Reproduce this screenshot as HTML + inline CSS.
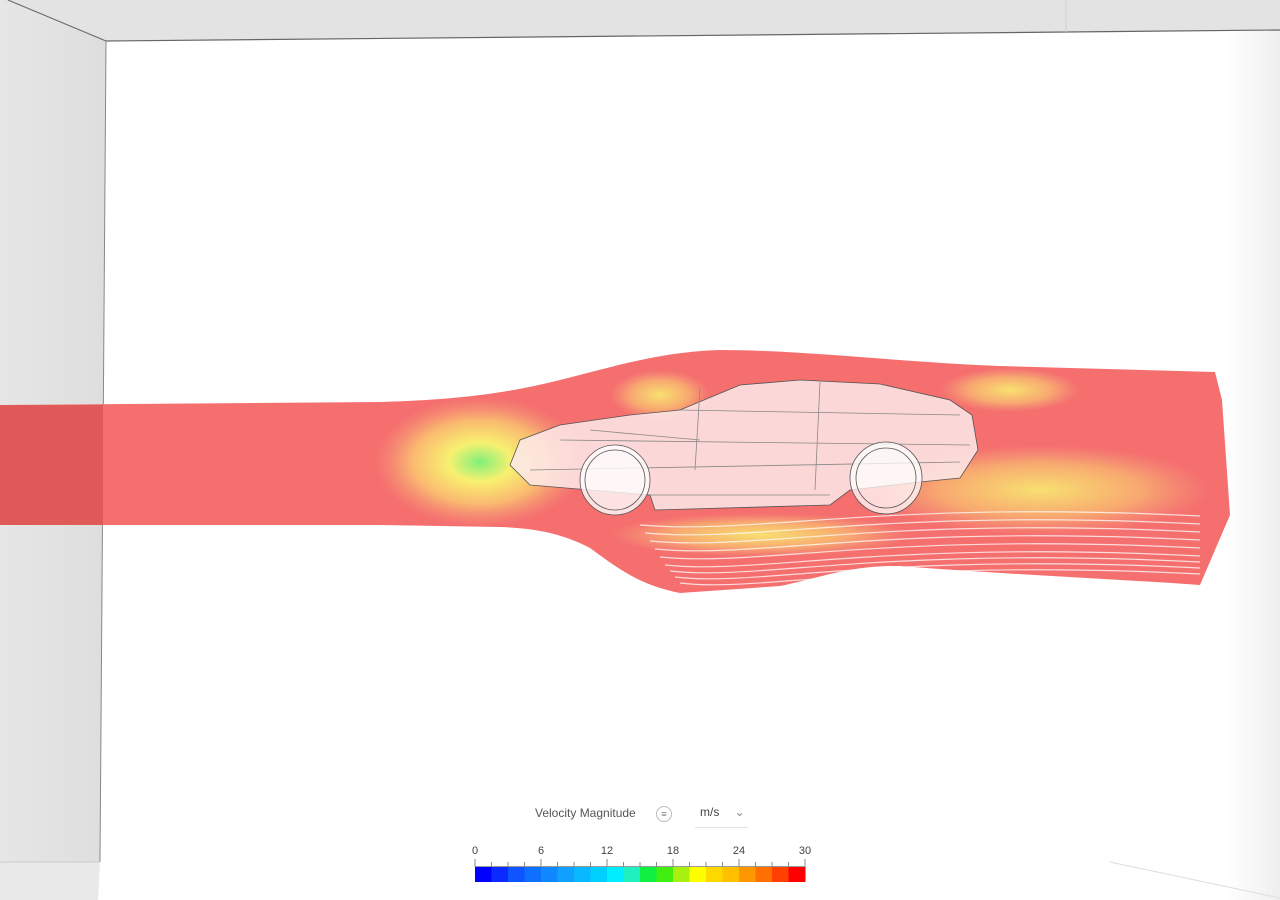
<!DOCTYPE html>
<html><head><meta charset="utf-8">
<style>
html,body{margin:0;padding:0;width:1280px;height:900px;overflow:hidden;background:#fff;font-family:"Liberation Sans",sans-serif;}
#scene{position:absolute;left:0;top:0;}
#legend{position:absolute;left:0;top:0;width:1280px;height:900px;pointer-events:none;}
.lbl{position:absolute;font-size:12px;color:#444;}
</style></head>
<body>
<svg id="scene" width="1280" height="900" viewBox="0 0 1280 900">
 <defs>
  <linearGradient id="rw" x1="0" x2="1"><stop offset="0" stop-color="#fff"/><stop offset="1" stop-color="#efefef"/></linearGradient>
  <linearGradient id="lw" x1="0" x2="1"><stop offset="0" stop-color="#e6e6e6"/><stop offset="1" stop-color="#dedede"/></linearGradient>
  <radialGradient id="stag1" cx="0.5" cy="0.5" r="0.5"><stop offset="0" stop-color="#7ff07a"/><stop offset="0.3" stop-color="#f8f070"/><stop offset="0.65" stop-color="#fab870"/><stop offset="1" stop-color="#f39a78" stop-opacity="0"/></radialGradient>
  <radialGradient id="stag2" cx="0.5" cy="0.5" r="0.5"><stop offset="0" stop-color="#f8e070"/><stop offset="0.6" stop-color="#f8a870"/><stop offset="1" stop-color="#f39a78" stop-opacity="0"/></radialGradient>
 </defs>
 <g>
  <rect x="0" y="0" width="1280" height="900" fill="#fff"/>
  <polygon points="0,0 1280,0 1280,30 106,41" fill="#e3e3e3"/>
  <polygon points="0,0 106,41 100,862 0,862" fill="url(#lw)"/>
  <rect x="1225" y="30" width="55" height="870" fill="url(#rw)"/>
  <polygon points="0,862 100,862 98,900 0,900" fill="#e9e9e9"/>
  <line x1="106" y1="41" x2="1280" y2="30" stroke="#666" stroke-width="1.2"/>
  <line x1="8" y1="0" x2="106" y2="41" stroke="#666" stroke-width="1"/>
  <line x1="106" y1="41" x2="100" y2="862" stroke="#888" stroke-width="1"/>
  <line x1="1066" y1="0" x2="1066" y2="32" stroke="#d0d0d0"/>
  <line x1="0" y1="862" x2="100" y2="862" stroke="#ccc"/>
  <line x1="1110" y1="862" x2="1280" y2="898" stroke="#ddd"/>
 </g>
 <g>
  <path d="M0,405 L380,402 C450,400 500,395 560,380 C620,365 660,352 720,350 C800,350 900,362 1000,366 L1215,372 L1222,400 L1230,515 L1200,585 C1100,578 1000,574 900,566 C850,565 820,578 780,586 L680,593 C640,585 620,570 590,548 C560,532 530,528 500,527 L380,525 L0,525 Z" fill="#f56f6f"/>
  <rect x="0" y="405" width="103" height="120" fill="#e05a5a"/>
  <ellipse cx="480" cy="462" rx="105" ry="65" fill="url(#stag1)"/>
  <ellipse cx="660" cy="395" rx="50" ry="25" fill="url(#stag2)"/>
  <ellipse cx="1010" cy="390" rx="70" ry="22" fill="url(#stag2)"/>
  <ellipse cx="1040" cy="490" rx="170" ry="45" fill="url(#stag2)"/>
  <ellipse cx="760" cy="535" rx="150" ry="22" fill="url(#stag2)"/>
  <g id="wake" stroke="#fff" stroke-width="1.2" fill="none" opacity="0.75"></g>
 </g>
 <g stroke="#555" stroke-width="0.8" fill="none">
  <path d="M510,465 L520,440 L560,425 L630,415 L680,410 L740,385 L800,380 L880,384 L950,400 L972,415 L978,450 L960,478 L920,482 L850,490 L830,505 L655,510 L650,495 L590,490 L530,485 Z" fill="#fdeaea" fill-opacity="0.85"/>
  <path d="M680,410 L960,415 M560,440 L970,445 M530,470 L960,462 M650,495 L830,495 M700,388 L695,470 M820,382 L815,490 M590,430 L700,440" stroke="#888"/>
  <circle cx="615" cy="480" r="35" fill="#fff" fill-opacity="0.8"/>
  <circle cx="615" cy="480" r="30"/>
  <circle cx="886" cy="478" r="36" fill="#fff" fill-opacity="0.75"/>
  <circle cx="886" cy="478" r="30"/>
 </g>
</svg>
<div id="legend">
 <div class="lbl" style="left:535px;top:806px;font-size:12px;color:#555;">Velocity Magnitude</div>
 <div style="position:absolute;left:656px;top:806px;width:14px;height:14px;border:1px solid #bbb;border-radius:50%;font-size:9px;color:#777;text-align:center;line-height:14px;">≡</div>
 <div class="lbl" style="left:700px;top:805px;color:#444;">m/s <span style="margin-left:12px;color:#888;">⌄</span></div>
 <div style="position:absolute;left:695px;top:827px;width:53px;border-top:1px solid #e3e3e3;"></div>
 <svg id="cbar" width="1280" height="900" style="position:absolute;left:0;top:0;"></svg>
</div>
<script>
const tickValues=[0,6,12,18,24,30];
const binColors=["#0000ff","#0a2aff","#0e55ff","#0f70ff","#0f88ff","#10a0ff","#0ab8ff","#00d0ff","#00eeff","#20f0c0","#10f040","#40ee10","#a8f010","#ffff00","#ffd800","#ffc000","#ff9800","#ff7000","#ff4000","#ff0000"];
const vMin=0, vMax=30;
const NS='http://www.w3.org/2000/svg';
const cb=document.getElementById('cbar');
const x0=475,x1=805;
function xs(v){return x0+(v-vMin)/(vMax-vMin)*(x1-x0);}
const bw=(x1-x0)/binColors.length;
binColors.forEach((c,i)=>{const r=document.createElementNS(NS,'rect');


r.setAttribute('x',x0+i*bw);r.setAttribute('y',867);r.setAttribute('width',bw+0.5);r.setAttribute('height',15);r.setAttribute('fill',c);cb.appendChild(r);});
const base=document.createElementNS(NS,'line');base.setAttribute('x1',x0);base.setAttribute('x2',x1);base.setAttribute('y1',866.5);base.setAttribute('y2',866.5);base.setAttribute('stroke','#999');cb.appendChild(base);
for(let v=vMin;v<=vMax;v+=1.5){const t=document.createElementNS(NS,'line');


const major=Math.abs(v/6-Math.round(v/6))<1e-6;
t.setAttribute('x1',xs(v));t.setAttribute('x2',xs(v));t.setAttribute('y1',major?859:862);t.setAttribute('y2',867);t.setAttribute('stroke','#888');cb.appendChild(t);}
tickValues.forEach(v=>{const t=document.createElementNS(NS,'text');


t.setAttribute('x',xs(v));t.setAttribute('y',854);t.setAttribute('text-anchor','middle');t.setAttribute('font-size','11');t.setAttribute('fill','#444');t.setAttribute('font-family','Liberation Sans, sans-serif');t.textContent=v;cb.appendChild(t);});
const wake=document.getElementById('wake');
const wakeY=[520,528,536,544,552,560,566,572,578];
wakeY.forEach((y,i)=>{const p=document.createElementNS(NS,'path');


p.setAttribute('d',`M${640+i*5},${y+5} C760,${y+15} 880,${y-20} 1200,${y-4}`);wake.appendChild(p);});
</script>
</body></html>
